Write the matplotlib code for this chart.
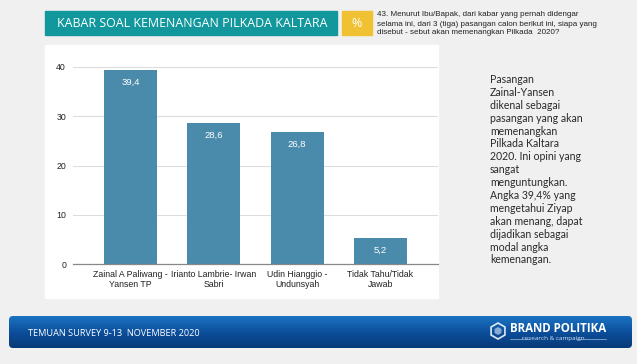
import matplotlib
matplotlib.use("Agg")
import matplotlib.pyplot as plt
import numpy as np
from matplotlib.patches import Rectangle, FancyBboxPatch, RegularPolygon

# data
categories = ["Zainal A Paliwang -\nYansen TP", "Irianto Lambrie- Irwan\nSabri",
              "Udin Hianggio -\nUndunsyah", "Tidak Tahu/Tidak\nJawab"]
values = [39.4, 28.6, 26.8, 5.2]
value_labels = ["39,4", "28,6", "26,8", "5,2"]
yticks = [0, 10, 20, 30, 40]

title = "KABAR SOAL KEMENANGAN PILKADA KALTARA"
question = ("43. Menurut Ibu/Bapak, dari kabar yang pernah didengar\n"
            "selama ini, dari 3 (tiga) pasangan calon berikut ini, siapa yang\n"
            "disebut - sebut akan memenangkan Pilkada  2020?")
note = ("Pasangan\nZainal-Yansen\ndikenal sebagai\npasangan yang akan\n"
        "memenangkan\nPilkada Kaltara\n2020. Ini opini yang\nsangat\n"
        "menguntungkan.\nAngka 39,4% yang\nmengetahui Ziyap\nakan menang, dapat\n"
        "dijadikan sebagai\nmodal angka\nkemenangan.")
footer = "TEMUAN SURVEY 9-13  NOVEMBER 2020"

W, H = 637, 364
fig = plt.figure(figsize=(W / 100, H / 100), dpi=100)
fig.patch.set_facecolor("#f0f0f0")

# background layer in pixel coords
bg = fig.add_axes([0, 0, 1, 1], zorder=0)
bg.set_xlim(0, W)
bg.set_ylim(H, 0)
bg.axis("off")

# title boxes
bg.add_patch(Rectangle((45, 11), 292, 24, color="#12979c"))
bg.text(192, 23.5, title, color="white", fontsize=8.9, family="Open Sans",
        ha="center", va="center")
bg.add_patch(Rectangle((342, 11), 30, 24, color="#f0c233"))
bg.text(357, 23.5, "%", color="white", fontsize=9, family="Open Sans",
        ha="center", va="center")
bg.text(377, 24, question, fontsize=5.8, family="Liberation Sans",
        color="#222222", ha="left", va="center", linespacing=1.4)

# white chart panel
bg.add_patch(Rectangle((45, 45), 393, 253, color="white"))

# side note
bg.text(490, 74, note, fontsize=7.6, family="Lato", color="#2a2a2a",
        ha="left", va="top", linespacing=1.21)

# footer with gradient
grad = np.linspace(0, 1, 64).reshape(-1, 1)
cmap = matplotlib.colors.LinearSegmentedColormap.from_list("ft", ["#1b73c2", "#0c4f9c", "#083a78"])
box = FancyBboxPatch((9, 316), 623, 32, boxstyle="round,pad=0,rounding_size=4",
                     facecolor="none", edgecolor="none")
bg.add_patch(box)
im = bg.imshow(grad, cmap=cmap, extent=(9, 632, 348, 316), aspect="auto", zorder=1)
im.set_clip_path(box)
bg.set_xlim(0, W)
bg.set_ylim(H, 0)
bg.text(28, 333, footer, color="white", fontsize=6.6, family="Open Sans",
        ha="left", va="center", zorder=2)

# logo
bg.add_patch(RegularPolygon((498, 331), 6, radius=8, facecolor="none",
                            edgecolor="#dde8f5", lw=1.2, zorder=2))
bg.add_patch(RegularPolygon((498, 331), 6, radius=4, facecolor="#dde8f5",
                            edgecolor="none", alpha=0.6, zorder=2))
bg.text(510, 328, "BRAND POLITIKA", color="white", fontsize=8.3, family="Open Sans",
        weight="bold", ha="left", va="center", zorder=2)
bg.text(553, 338.5, "research & campaign", color="#cfe0f2", fontsize=4.6,
        family="Open Sans", ha="center", va="center", zorder=2)
bg.plot([510, 529], [338.5, 338.5], color="#9ab8dc", lw=0.5, zorder=2)
bg.plot([577, 606], [338.5, 338.5], color="#9ab8dc", lw=0.5, zorder=2)

# chart
ax = fig.add_axes([73 / W, 1 - 264 / H, 365 / W, 207 / H], zorder=1)
ax.patch.set_alpha(0)
x = np.arange(len(values))
ax.bar(x, values, width=0.64, color="#4a8bab", zorder=2)
for xi, v, lab in zip(x, values, value_labels):
    ax.text(xi, v - 1.6, lab, color="white", fontsize=6.8, family="Liberation Sans",
            ha="center", va="top", zorder=3)
ax.set_xlim(-0.69, 3.69)
ax.set_ylim(0, 40 * 207 / 197)
ax.set_yticks(yticks)
ax.set_xticks(x)
ax.set_xticklabels(categories, fontsize=6.3, family="Liberation Sans", color="#222222",
                   linespacing=1.25)
ax.tick_params(axis="y", labelsize=6.3, colors="#222222", length=0, pad=5)
ax.tick_params(axis="x", length=0, pad=4)
for lab in ax.get_yticklabels():
    lab.set_family("Liberation Sans")
ax.grid(axis="y", color="#dddddd", lw=0.8, zorder=0)
for s in ["top", "right", "left"]:
    ax.spines[s].set_visible(False)
ax.spines["bottom"].set_color("#888888")
ax.spines["bottom"].set_linewidth(0.9)

fig.savefig("out.png", dpi=100, facecolor=fig.get_facecolor())
